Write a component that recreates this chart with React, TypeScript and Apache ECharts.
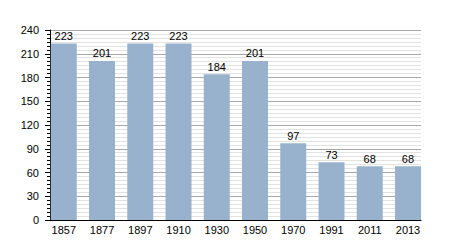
import React, { useEffect, useRef } from "react";
import * as echarts from "echarts";

const years = ["1857", "1877", "1897", "1910", "1930", "1950", "1970", "1991", "2011", "2013"];
const population = [223, 201, 223, 223, 184, 201, 97, 73, 68, 68];
const yTicks = [0, 30, 60, 90, 120, 150, 180, 210, 240];

export default function App() {
  const ref = useRef<HTMLDivElement>(null);
  useEffect(() => {
    if (!ref.current) return;
    const chart = echarts.init(ref.current, undefined, { renderer: "svg" });
    const font = "'Liberation Sans', Arial, sans-serif";
    chart.setOption({
      animation: false,
      grid: { left: 50, right: 29, top: 30, bottom: 30 },
      xAxis: {
        type: "value",
        min: -0.36,
        max: 9.34,
        axisLine: { show: true, onZero: false, lineStyle: { color: "#000", width: 1 } },
        axisTick: { show: false },
        splitLine: { show: false },
        axisLabel: {
          customValues: years.map((_, i) => i),
          formatter: (v: number) => years[Math.round(v)] ?? "",
          color: "#000",
          fontSize: 11,
          fontFamily: font,
          margin: 4,
        },
      },
      yAxis: {
        type: "value",
        min: yTicks[0],
        max: yTicks[yTicks.length - 1],
        interval: 30,
        axisLine: { show: true, onZero: false, lineStyle: { color: "#000", width: 1 } },
        axisTick: { show: true, inside: false, length: 5, lineStyle: { color: "#000" } },
        minorTick: { show: true, splitNumber: 6, length: 3, lineStyle: { color: "#000" } },
        splitLine: { show: true, lineStyle: { color: "#a8a8a8", width: 1 } },
        minorSplitLine: { show: true, lineStyle: { color: "#e2e2e2", width: 1 } },
        axisLabel: { color: "#000", fontSize: 11, fontFamily: font, margin: 11 },
      },
      series: [
        {
          type: "bar",
          data: population.map((v, i) => [i, v]),
          barWidth: 26,
          itemStyle: { color: "#98b2cd" },
          label: {
            show: true,
            position: "top",
            distance: 2,
            color: "#000",
            fontSize: 11,
            fontFamily: font,
          },
        },
      ],
    });
    return () => chart.dispose();
  }, []);
  return <div ref={ref} style={{ width: 450, height: 250, margin: -8 }} />;
}
